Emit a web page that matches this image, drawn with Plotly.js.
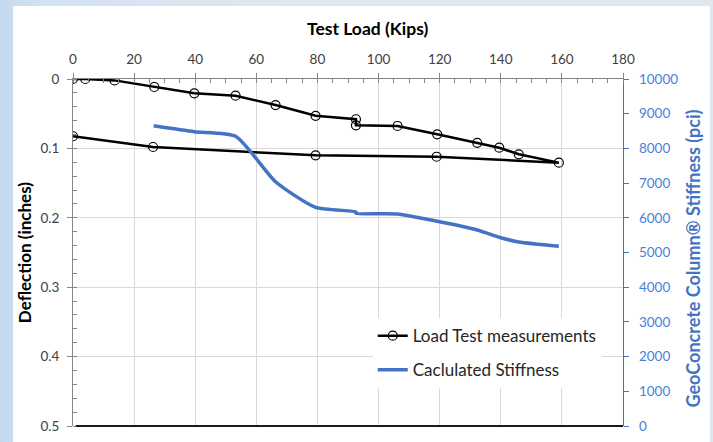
<!DOCTYPE html>
<html>
<head>
<meta charset="utf-8">
<script src="https://cdn.plot.ly/plotly-3.0.1.min.js"></script>
<style>
  html, body { margin: 0; padding: 0; }
  body { width: 713px; height: 442px; overflow: hidden; position: relative;
         background: linear-gradient(to right, #c4d8ee 0px, #d3e2f1 40px, #dde8f1 300px, #dde8f1 100%); }
  #chart { position: absolute; left: 13px; top: 6px; width: 697px; height: 436px; }
</style>
</head>
<body>
<div id="chart"></div>
<script>
// Load test: loading path then unloading path (Kips vs inches)
const loadKips = [0, 4, 13.6, 26.6, 39.7, 53.2, 66.3, 79.4, 92.6, 92.6, 106.2, 119.2, 132.3, 139.5, 145.9, 159, 119, 79.4, 26.2, 0];
const deflectionIn = [0, 0, 0.002, 0.0115, 0.0206, 0.024, 0.0375, 0.053, 0.058, 0.0667, 0.0677, 0.0797, 0.092, 0.099, 0.1085, 0.1205, 0.112, 0.110, 0.098, 0.0825];

// Calculated stiffness (pci)
const stiffLoad = [26.4, 39.7, 53.2, 66.3, 79.4, 92.6, 92.6, 106.2, 119.2, 132.3, 139.5, 145.9, 159];
const stiffPci = [8650, 8480, 8350, 7040, 6300, 6170, 6130, 6110, 5900, 5650, 5440, 5300, 5180];

const xTicks = [0, 20, 40, 60, 80, 100, 120, 140, 160, 180];
const seriesNames = ['Load Test measurements', 'Caclulated Stiffness'];

const FONT = 'Lato, "Open Sans", sans-serif';
const GRAY = '#868686';
const BLUE = '#4472c4';
const BLUE_TXT = '#4a7ddc';

const traces = [
  {
    x: loadKips, y: deflectionIn, name: seriesNames[0],
    type: 'scatter', mode: 'lines+markers', yaxis: 'y', legendgroup: 'a',
    line: { color: '#000000', width: 2.5 },
    marker: { symbol: 'circle-open', size: 9, color: '#000000', line: { width: 1.2, color: '#000000' } }
  },
  {
    x: stiffLoad, y: stiffPci, name: seriesNames[1],
    type: 'scatter', mode: 'lines', yaxis: 'y2', legendgroup: 'b',
    line: { color: BLUE, width: 3.5, shape: 'spline', smoothing: 0.6 }
  }
];

const layout = {
  width: 697, height: 436,
  margin: { l: 60, r: 87, t: 73, b: 16 },
  paper_bgcolor: '#ffffff', plot_bgcolor: '#ffffff',
  font: { family: FONT, size: 13, color: '#404040' },
  showlegend: true,
  legend: {
    x: 0.545, y: 0.311, xanchor: 'left', yanchor: 'top',
    bgcolor: '#ffffff', borderwidth: 0,
    font: { family: FONT, size: 17, color: '#262626' },
    traceorder: 'grouped', tracegroupgap: 9
  },
  xaxis: {
    range: [0, 180], side: 'top', tickvals: xTicks, ticktext: xTicks.map(String),
    showline: true, linecolor: GRAY, linewidth: 1,
    ticks: 'outside', ticklen: 5, tickcolor: GRAY, ticklabelstandoff: 4,
    showgrid: true, gridcolor: '#d9d9d9', gridwidth: 1, zeroline: false,
    tickfont: { family: FONT, size: 13.5, color: '#404040' },
    minor: { dtick: 5, ticks: 'inside', ticklen: 4, tickcolor: GRAY, showgrid: false }
  },
  yaxis: {
    range: [0.5, 0], dtick: 0.1, tick0: 0,
    showline: true, linecolor: GRAY, linewidth: 1,
    ticks: 'outside', ticklen: 5, tickcolor: GRAY, ticklabelstandoff: 5,
    showgrid: true, gridcolor: '#d9d9d9', gridwidth: 1, zeroline: false,
    tickfont: { family: FONT, size: 13.5, color: '#404040' },
    minor: { dtick: 0.02, ticks: 'inside', ticklen: 4, tickcolor: GRAY, showgrid: false }
  },
  yaxis2: {
    overlaying: 'y', side: 'right', range: [0, 10000], dtick: 1000, tick0: 0, tickformat: 'd',
    showline: true, linecolor: BLUE, linewidth: 1.2,
    ticks: 'outside', ticklen: 5, tickcolor: BLUE, ticklabelstandoff: 7,
    showgrid: false, zeroline: false,
    tickfont: { family: FONT, size: 13.5, color: BLUE_TXT }
  },
  shapes: [
    { type: 'line', xref: 'paper', yref: 'paper', x0: 0.005, x1: 1, y0: 0, y1: 0,
      line: { color: '#1a1a1a', width: 2 } }
  ],
  annotations: [
    { text: '<b>Test Load (Kips)</b>', xref: 'paper', yref: 'paper', x: 0.5355, y: 1.145,
      showarrow: false, xanchor: 'center', yanchor: 'middle',
      font: { family: FONT, size: 17.5, color: '#000000' } },
    { text: '<b>Deflection (inches)</b>', xref: 'paper', yref: 'paper', x: -0.087, y: 0.4986,
      showarrow: false, xanchor: 'center', yanchor: 'middle', textangle: -90,
      font: { family: FONT, size: 17, color: '#000000' } },
    { text: '<b>GeoConcrete Column® Stiffness (pci)</b>', xref: 'paper', yref: 'paper', x: 1.128, y: 0.484,
      showarrow: false, xanchor: 'center', yanchor: 'middle', textangle: -90,
      font: { family: FONT, size: 18, color: BLUE } }
  ]
};

Plotly.newPlot('chart', traces, layout, { displayModeBar: false, staticPlot: true });
</script>
</body>
</html>
